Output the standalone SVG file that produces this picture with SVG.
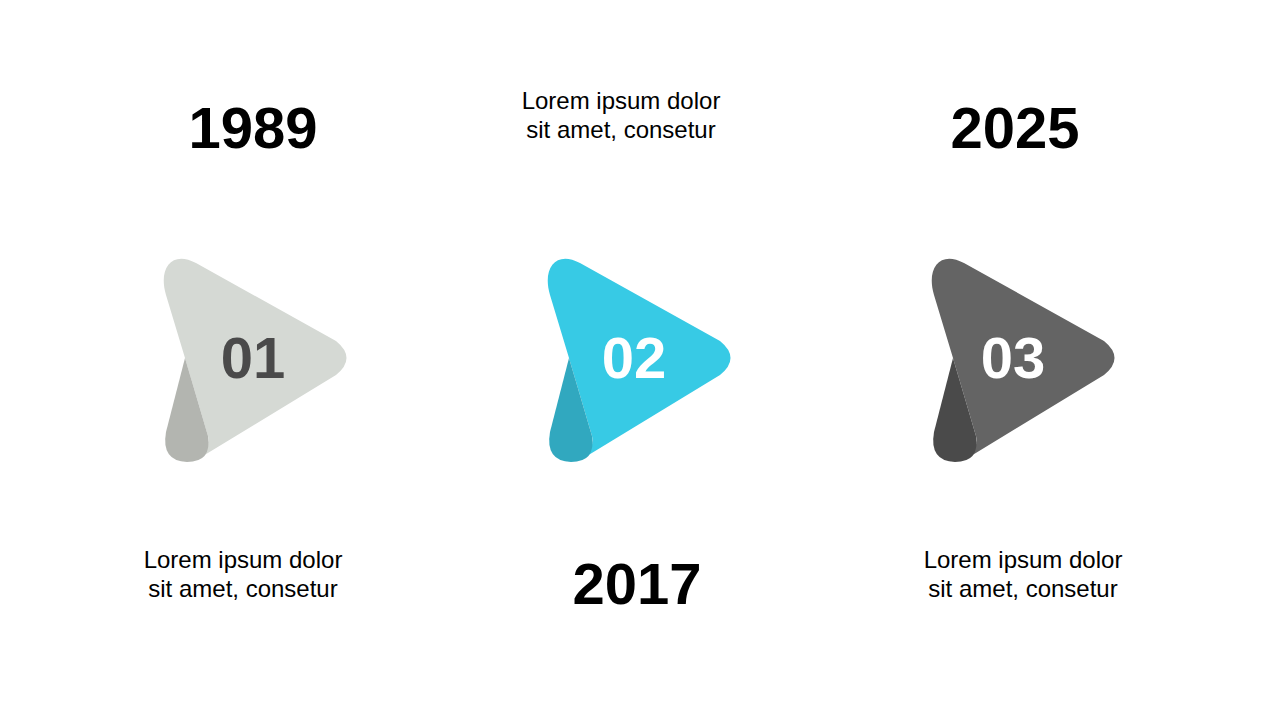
<svg xmlns="http://www.w3.org/2000/svg" width="1280" height="720" viewBox="0 0 1280 720">
<defs>
<style>
.yr{font-family:"Liberation Sans",Arial,sans-serif;font-weight:bold;font-size:58px;fill:#000;text-anchor:middle}
.num{font-family:"Liberation Sans",Arial,sans-serif;font-weight:bold;font-size:58px;text-anchor:middle}
.txt{font-family:"Liberation Sans",Arial,sans-serif;font-size:24px;fill:#000;text-anchor:middle}
</style>
<path id="main" d="M185,358 L166,295 C158,268 172,250 196,263 L336,341 Q357,358 336,375 L198,459 Q211,449 208,436 Z"/>
<path id="fold" d="M185,358 L208,436 Q212,462 187,462 Q161,461 166,432 Z"/>
</defs>
<rect width="1280" height="720" fill="#fff"/>
<g id="node1">
<use href="#main" fill="#D5D9D4"/>
<use href="#fold" fill="#B3B5B0"/>
<text class="num" x="253" y="378" fill="#4A4A4A">01</text>
</g>
<g id="node2" transform="translate(384,0)">
<use href="#main" fill="#37CAE5"/>
<use href="#fold" fill="#31A8BF"/>
<text class="num" x="250" y="378" fill="#fff">02</text>
</g>
<g id="node3" transform="translate(768,0)">
<use href="#main" fill="#646464"/>
<use href="#fold" fill="#4A4A4A"/>
<text class="num" x="245" y="378" fill="#fff">03</text>
</g>
<g id="labels">
<text class="yr" x="253" y="148">1989</text>
<text class="yr" x="637" y="604">2017</text>
<text class="yr" x="1015" y="148">2025</text>
<text class="txt" x="621" y="109">Lorem ipsum dolor</text>
<text class="txt" x="621" y="138">sit amet, consetur</text>
<text class="txt" x="243" y="568">Lorem ipsum dolor</text>
<text class="txt" x="243" y="597">sit amet, consetur</text>
<text class="txt" x="1023" y="568">Lorem ipsum dolor</text>
<text class="txt" x="1023" y="597">sit amet, consetur</text>
</g>
<g id="connectors"/>
</svg>
